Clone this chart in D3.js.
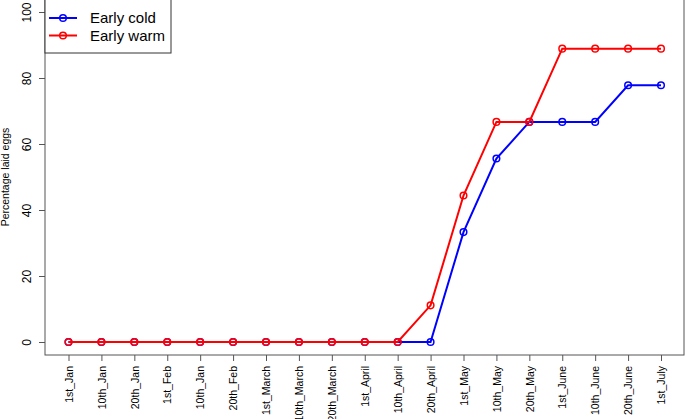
<!DOCTYPE html>
<meta charset="utf-8">
<style>
body { margin: 0; background: #fff; }
text { font-family: "Liberation Sans", Arial, sans-serif; }
</style>
<svg></svg>
<script src="https://d3js.org/d3.v7.min.js"></script>
<script>
var dates = ["1st_Jan","10th_Jan","20th_Jan","1st_Feb","10th_Jan","20th_Feb","1st_March","10th_March","20th_March","1st_April","10th_April","20th_April","1st_May","10th_May","20th_May","1st_June","10th_June","20th_June","1st_July"];
var earlyCold = [0,0,0,0,0,0,0,0,0,0,0,0,33.3,55.6,66.7,66.7,66.7,77.8,77.8];
var earlyWarm = [0,0,0,0,0,0,0,0,0,0,0,11.1,44.4,66.7,66.7,88.9,88.9,88.9,88.9];
var yTicks = [0,20,40,60,80,100];
var seriesNames = ["Early cold","Early warm"];
var seriesColors = ["#0000ff","#ff0000"];

var width = 685, height = 419;
var box = {left: 45, right: 684, top: -1, bottom: 355};

var svg = d3.select("svg").attr("width", width).attr("height", height);

var x = d3.scaleLinear().domain([0, dates.length - 1]).range([68.5, 661]);
var y = d3.scaleLinear().domain([0, 100]).range([342, 12]);

// plot frame
svg.append("rect")
    .attr("x", box.left).attr("y", box.top)
    .attr("width", box.right - box.left).attr("height", box.bottom - box.top)
    .attr("fill", "none").attr("stroke", "#555").attr("stroke-width", 1);

// y axis
var yAxis = svg.append("g").attr("transform", "translate(" + box.left + ",0)")
    .call(d3.axisLeft(y).tickValues(yTicks).tickSize(6).tickPadding(0).tickFormat(d3.format("d")));
yAxis.select(".domain").remove();
yAxis.selectAll(".tick line").attr("stroke", "#555");
yAxis.selectAll(".tick text")
    .attr("transform", "translate(-14,0) rotate(-90)")
    .attr("x", 0).attr("dy", 0)
    .attr("text-anchor", "middle")
    .style("font-size", "12px").attr("fill", "#000");

// x axis
var xAxis = svg.append("g").attr("transform", "translate(0," + box.bottom + ")")
    .call(d3.axisBottom(x).tickValues(d3.range(dates.length)).tickSize(6).tickFormat(function(i) { return dates[i]; }));
xAxis.select(".domain").remove();
xAxis.selectAll(".tick line").attr("stroke", "#555");
xAxis.selectAll(".tick text")
    .attr("transform", "rotate(-90)")
    .attr("x", -11).attr("y", 0).attr("dy", "0.35em")
    .attr("text-anchor", "end")
    .style("font-size", "10.5px").attr("fill", "#000");

// y label
svg.append("text")
    .attr("transform", "translate(9,177) rotate(-90)")
    .attr("text-anchor", "middle")
    .style("font-size", "10.5px")
    .text("Percentage laid eggs");

var line = d3.line().x(function(d, i) { return x(i); }).y(function(d) { return y(d); });

[earlyCold, earlyWarm].forEach(function(vals, k) {
  var g = svg.append("g");
  g.append("path").datum(vals)
      .attr("d", line).attr("fill", "none")
      .attr("stroke", seriesColors[k]).attr("stroke-width", 2);
  g.selectAll("circle").data(vals).enter().append("circle")
      .attr("cx", function(d, i) { return x(i); })
      .attr("cy", function(d) { return y(d); })
      .attr("r", 3.3)
      .attr("fill", "none").attr("stroke", seriesColors[k]).attr("stroke-width", 1.5);
});

// legend
var legend = svg.append("g");
legend.append("rect")
    .attr("x", box.left).attr("y", -1).attr("width", 126).attr("height", 54)
    .attr("fill", "#fff").attr("stroke", "#333");
seriesNames.forEach(function(name, k) {
  var ly = 18 + k * 17.5;
  legend.append("line").attr("x1", 49).attr("x2", 77).attr("y1", ly).attr("y2", ly)
      .attr("stroke", seriesColors[k]).attr("stroke-width", 2);
  legend.append("circle").attr("cx", 63).attr("cy", ly).attr("r", 3.3)
      .attr("fill", "none").attr("stroke", seriesColors[k]).attr("stroke-width", 1.5);
  legend.append("text").attr("x", 90).attr("y", ly).attr("dy", "0.35em")
      .style("font-size", "15px").text(name);
});
</script>
